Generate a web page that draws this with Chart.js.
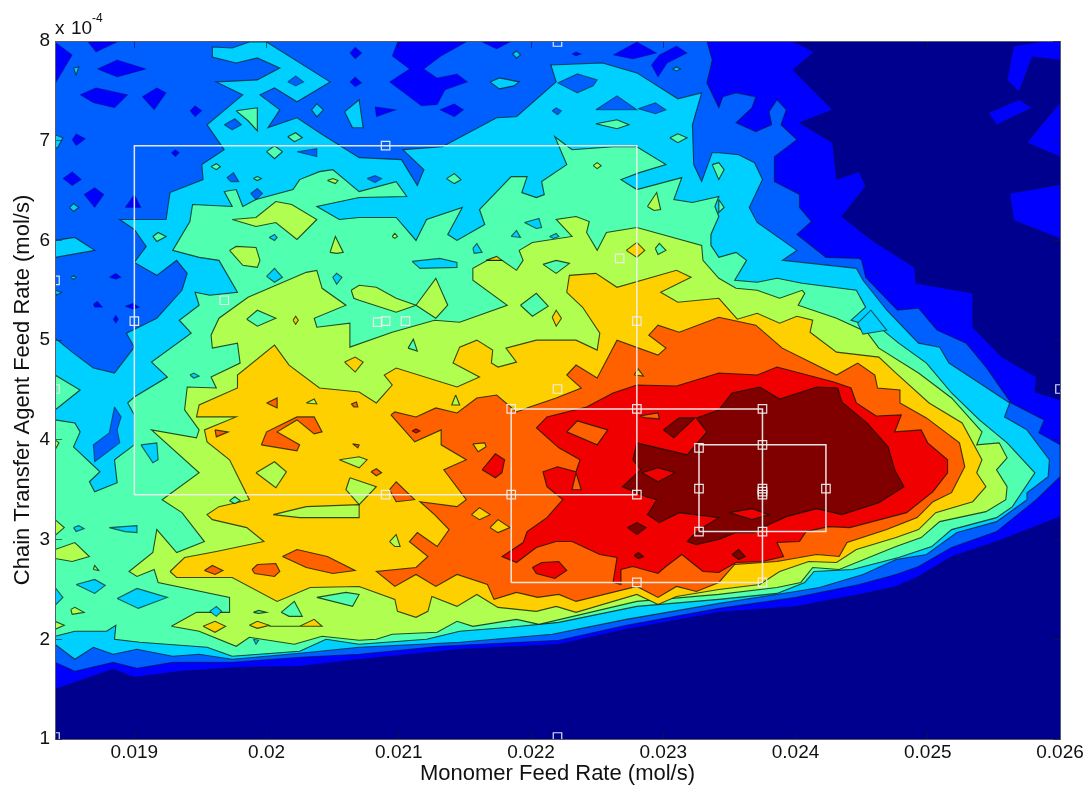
<!DOCTYPE html>
<html>
<head>
<meta charset="utf-8">
<title>Contour</title>
<script src="https://cdn.jsdelivr.net/npm/chart.js@4/dist/chart.umd.js"></script>
<style>
  html, body { margin: 0; padding: 0; background: #fff; }
  canvas { display: block; }
</style>
</head>
<body>
<canvas id="myChart" width="1086" height="787"></canvas>
<script>
// x values are in 1e-3 mol/s, y values in 1e-4 mol/s
const xTicks = [19, 20, 21, 22, 23, 24, 25, 26];
const xTickLabels = ['0.019', '0.02', '0.021', '0.022', '0.023', '0.024', '0.025', '0.026'];
const yTicks = [1, 2, 3, 4, 5, 6, 7, 8];
const levelColors = ['#00008f', '#0000ff', '#0060ff', '#00d0ff', '#50ffb0', '#b0ff50', '#ffd000', '#ff6000', '#f00000', '#800000'];

const level0 = [[18.4,1],[26,1],[26,8],[18.4,8]];
const level1 = [[18.4,1.5],[18.84,1.7],[19,1.62],[19.34,1.68],[19.8,1.72],[20.25,1.73],[20.7,1.8],[21.46,1.9],[22.21,1.95],[22.72,2.1],[23.42,2.27],[24,2.33],[24.48,2.45],[24.76,2.53],[24.93,2.63],[25.18,2.83],[25.52,2.98],[26,3.23],[26,4.4],[25.81,4.48],[25.82,4.63],[25.56,4.83],[25.34,5.13],[25.34,5.47],[24.91,5.57],[24.9,5.73],[24.58,6],[24.35,6.24],[24.53,6.54],[24.48,6.69],[24.31,6.61],[24.28,6.98],[24.03,7.18],[24.28,7.31],[23.98,7.71],[24.14,7.89],[23.98,8],[18.4,8]];
const level2 = [[18.4,1.77],[18.55,1.68],[18.84,1.77],[19.02,1.71],[19.29,1.77],[19.74,1.77],[20.25,1.82],[20.7,1.85],[21.31,1.93],[22.21,1.99],[22.72,2.14],[23.42,2.31],[24,2.42],[24.48,2.55],[24.76,2.65],[24.93,2.73],[25.18,2.92],[25.52,3.08],[25.82,3.4],[26,3.63],[26,3.95],[25.84,4.07],[25.88,4.2],[25.63,4.37],[25.44,4.73],[25.29,4.97],[25.07,5.1],[24.93,5.32],[24.77,5.3],[24.53,5.63],[24.5,5.8],[24.48,5.82],[24.23,5.83],[24.01,6.06],[24.12,6.19],[24.03,6.33],[24.03,6.46],[23.84,6.59],[23.84,6.84],[24.01,7.01],[23.89,7.16],[23.93,7.31],[23.86,7.41],[23.8,7.29],[23.82,7.16],[23.7,7.09],[23.55,7.18],[23.67,7.33],[23.7,7.44],[23.55,7.48],[23.45,7.44],[23.42,7.33],[23.33,7.58],[23.37,7.81],[23.33,8],[18.4,8]];
const level3 = [[18.4,1.95],[18.55,1.8],[18.69,1.92],[18.84,1.85],[19.02,1.9],[19.29,1.83],[19.49,1.85],[19.74,1.8],[20.25,1.86],[20.7,1.92],[21.46,1.97],[22.16,2.05],[22.72,2.2],[23.42,2.36],[24,2.48],[24.18,2.52],[24.51,2.65],[24.76,2.8],[24.99,2.85],[25.22,3.07],[25.52,3.18],[25.75,3.4],[25.75,3.47],[25.91,3.63],[25.92,3.8],[25.75,4.1],[25.58,4.23],[25.62,4.37],[25.16,4.77],[25.09,4.93],[24.93,4.97],[24.69,5.3],[24.51,5.6],[24.46,5.72],[23.9,5.8],[24.01,5.9],[23.71,6.18],[23.65,6.33],[23.75,6.61],[23.69,6.78],[23.57,6.86],[23.42,6.88],[23.37,6.88],[23.29,6.59],[23.23,6.76],[23.22,7.16],[23.29,7.48],[23.11,7.42],[22.8,7.68],[22.54,7.78],[22.15,7.76],[22.19,7.59],[21.89,7.24],[21.74,7.23],[21.33,6.94],[21.03,6.91],[21.19,6.71],[21.14,6.55],[21.02,6.81],[20.7,6.83],[20.4,7.08],[20.23,7.23],[20.01,7.13],[20.1,7.31],[19.95,7.46],[20.06,7.53],[20.23,7.39],[20.48,7.59],[20,7.99],[19.87,7.99],[19.74,7.93],[19.59,7.94],[19.59,7.84],[19.77,7.78],[19.93,7.83],[20.1,7.73],[19.93,7.61],[19.62,7.59],[19.82,7.46],[19.55,7.16],[19.68,6.91],[19.51,6.76],[19.52,6.61],[19.27,6.48],[19.24,6.21],[18.89,6.21],[19,6.11],[19.09,5.94],[19,5.78],[19.17,5.65],[19.32,5.8],[19.4,5.67],[19.36,5.5],[19.17,5.22],[18.94,5.07],[19,4.93],[18.85,4.67],[18.69,4.72],[18.53,4.88],[18.4,5.02]];
const level4 = [[18.4,2.03],[18.55,2.08],[18.79,2.08],[18.86,2.14],[18.85,2],[19.04,1.97],[19.55,1.92],[19.74,1.83],[20.25,1.88],[20.45,2],[20.7,1.95],[21.21,2],[21.46,2.08],[21.84,2.12],[22.21,2.17],[22.8,2.33],[23.42,2.4],[23.86,2.46],[24.07,2.57],[24.14,2.68],[24.43,2.7],[24.78,2.82],[25.03,2.93],[25.18,3.1],[25.52,3.22],[25.64,3.33],[25.81,3.67],[25.6,3.97],[25.39,4.2],[25.18,4.47],[24.99,4.77],[24.78,4.97],[24.66,5.1],[24.42,5.2],[24.53,5.33],[24.46,5.5],[24.05,5.57],[23.86,5.62],[23.71,5.58],[23.54,5.6],[23.63,5.8],[23.55,5.88],[23.42,5.83],[23.36,5.95],[23.36,6.06],[23.42,6.24],[23.39,6.34],[23.42,6.44],[23.22,6.38],[23.08,6.41],[23.14,6.63],[22.8,6.51],[22.68,6.61],[22.82,6.68],[23.02,6.76],[22.8,6.94],[22.62,6.94],[22.31,6.91],[22.18,7.04],[22.27,6.76],[22.08,6.59],[22.1,6.46],[22.04,6.43],[21.93,6.48],[21.97,6.64],[21.85,6.64],[21.61,6.31],[21.65,6.16],[21.44,6],[21.37,6.06],[21.48,6.33],[21.21,6.21],[21.13,6],[20.98,6.23],[20.7,6.23],[20.55,6.21],[20.38,6.34],[20.7,6.43],[21.06,6.44],[20.98,6.59],[20.7,6.49],[20.5,6.71],[20.4,6.69],[20.25,6.61],[20.2,6.51],[19.92,6.41],[19.82,6.34],[19.77,6.51],[19.68,6.49],[19.74,6.34],[19.44,6.36],[19.42,6.19],[19.29,5.9],[19.49,5.83],[19.64,5.8],[19.78,5.48],[19.57,5.45],[19.46,5.48],[19.49,5.35],[19.34,5.2],[19.43,5.07],[19.13,4.78],[19.25,4.63],[19,4.43],[18.95,4.37],[19,4.25],[19,3.95],[18.85,3.8],[18.87,3.57],[18.7,3.48],[18.66,3.58],[18.74,3.68],[18.54,3.93],[18.59,4.08],[18.55,4.17],[18.4,4.2]];
const level5 = [[19.28,2.13],[19.47,2.27],[19.72,2.27],[19.72,2.42],[19.18,2.57],[19.15,2.7],[19.02,2.63],[18.96,2.68],[19.14,2.87],[19.17,3.1],[19.32,2.87],[19.53,2.98],[19.36,3.27],[19.21,3.4],[19.49,3.67],[19.13,4.1],[19.47,4.02],[19.49,4.1],[19.38,4.3],[19.4,4.53],[19.62,4.52],[19.58,4.63],[19.8,4.77],[19.78,4.97],[19.59,4.92],[19.58,5.05],[19.64,5.22],[19.86,5.43],[20.3,5.68],[20.38,5.7],[20.42,5.52],[20.6,5.35],[20.36,5.22],[20.38,5.13],[20.63,5.17],[20.63,4.93],[20.95,5.08],[21.27,5.2],[21.46,5.18],[21.82,5.35],[21.56,5.6],[21.56,5.72],[21.67,5.8],[21.78,5.8],[21.89,5.7],[21.94,5.8],[21.91,5.9],[22.01,5.98],[22.31,6.04],[22.19,6.21],[22.34,6.24],[22.44,6.19],[22.42,6.08],[22.5,5.9],[22.57,6.08],[22.8,6.13],[23.29,5.95],[23.3,5.8],[23.42,5.62],[23.55,5.52],[23.71,5.5],[23.88,5.42],[24.05,5.5],[24.07,5.47],[24.02,5.35],[24.31,5.22],[24.54,5.08],[24.63,4.92],[24.93,4.67],[25.18,4.42],[25.41,4.08],[25.37,3.95],[25.54,3.97],[25.6,3.82],[25.52,3.7],[25.6,3.53],[25.59,3.4],[25.44,3.28],[25.09,3.18],[24.95,3.02],[24.76,2.93],[24.33,2.7],[24.13,2.72],[24.04,2.57],[23.86,2.52],[23.42,2.45],[22.8,2.38],[22.06,2.15],[21.89,2.2],[21.56,2.13],[21.44,2.18],[21.29,2.07],[20.95,2.05],[20.83,2],[20.7,1.99],[20.42,2.03],[20.21,1.95],[19.87,2.02],[19.77,1.93],[19.49,2.08]];
const level6 = [[19.27,2.68],[19.38,2.82],[19.62,2.88],[19.98,2.98],[19.85,3.12],[19.59,3.2],[19.55,3.25],[19.64,3.33],[19.87,3.4],[19.72,3.8],[19.55,3.98],[19.53,4.1],[19.77,4.23],[19.47,4.23],[19.49,4.35],[19.78,4.52],[19.78,4.65],[20.06,4.95],[20.17,4.75],[20.4,4.52],[20.7,4.48],[20.83,4.37],[20.95,4.55],[20.89,4.65],[20.98,4.72],[21.44,4.53],[21.61,4.63],[21.41,4.77],[21.46,4.93],[21.59,5],[21.71,4.9],[21.7,4.77],[21.75,4.73],[21.89,4.78],[21.81,4.92],[22.04,5],[22.34,5],[22.5,4.9],[22.52,5.07],[22.39,5.33],[22.27,5.48],[22.29,5.65],[22.49,5.67],[22.65,5.53],[23.1,5.7],[23.21,5.63],[22.98,5.48],[23.11,5.38],[23.42,5.42],[23.56,5.21],[23.71,5.27],[23.88,5.17],[24.01,5.24],[24.13,5.2],[24.11,5.08],[24.31,4.88],[24.63,4.83],[24.76,4.67],[25.01,4.37],[25.26,4.17],[25.41,3.8],[25.37,3.67],[25.44,3.53],[25.34,3.38],[25.06,3.27],[24.93,3.1],[24.76,3.02],[24.46,2.9],[24.31,2.77],[24.1,2.78],[23.88,2.68],[23.73,2.55],[23.42,2.5],[23.1,2.43],[22.96,2.35],[22.8,2.45],[22.34,2.27],[22.19,2.33],[22.04,2.28],[21.75,2.32],[21.59,2.45],[21.44,2.33],[21.25,2.43],[21.22,2.28],[21.13,2.22],[20.99,2.28],[20.97,2.4],[20.7,2.53],[20.33,2.52],[20.08,2.38],[19.74,2.62],[19.32,2.62]];
const level7 = [[20.94,4.25],[20.97,4.28],[21.13,4.23],[21.28,4.32],[21.44,4.27],[21.59,4.42],[21.74,4.45],[21.89,4.28],[21.99,4.33],[22.19,4.42],[22.38,4.52],[22.27,4.65],[22.34,4.75],[22.5,4.62],[22.65,5],[22.96,4.85],[23.02,4.92],[22.89,5.05],[22.96,5.15],[23.12,5.08],[23.42,5.23],[23.7,5.15],[23.9,4.92],[24.31,4.65],[24.47,4.77],[24.6,4.65],[24.62,4.52],[24.79,4.5],[24.79,4.37],[24.99,4.22],[25.24,3.97],[25.28,3.73],[25.18,3.47],[25.04,3.38],[24.92,3.22],[24.69,3.1],[24.39,2.97],[24.33,2.83],[24.16,2.85],[23.86,2.78],[23.54,2.75],[23.42,2.57],[23.25,2.48],[23.1,2.53],[22.96,2.42],[22.8,2.53],[22.34,2.38],[22.21,2.45],[22.05,2.42],[21.89,2.47],[21.72,2.4],[21.67,2.55],[21.44,2.65],[21.28,2.53],[21.13,2.65],[20.97,2.53],[20.83,2.68],[21.13,2.72],[21.22,2.83],[21.08,2.98],[21.14,3.07],[21.29,2.93],[21.38,3.1],[21.27,3.25],[21.16,3.38],[21.44,3.33],[21.51,3.4],[21.34,3.7],[21.51,3.8],[21.32,3.95],[21.32,4.1],[21.12,3.98]];
const level8 = [[22.04,4.12],[22.12,4.23],[22.42,4.33],[22.62,4.47],[22.8,4.55],[23.1,4.54],[23.42,4.67],[23.71,4.65],[23.86,4.73],[24.29,4.58],[24.42,4.52],[24.46,4.37],[24.61,4.24],[24.8,4.25],[24.75,4.08],[24.95,4.1],[25,3.97],[25.15,3.8],[25.15,3.67],[25.04,3.48],[24.84,3.27],[24.41,3.12],[24.25,3.13],[24.08,3.08],[24.03,2.98],[23.86,2.97],[23.91,2.83],[23.75,2.78],[23.55,2.77],[23.42,2.67],[23.3,2.68],[23.14,2.85],[23.02,2.73],[22.96,2.66],[22.77,2.73],[22.68,2.7],[22.68,2.55],[22.62,2.57],[22.65,2.82],[22.52,2.85],[22.31,2.98],[22.19,2.98],[22.04,2.92],[21.89,2.77],[21.78,2.83],[21.94,2.97],[21.97,3.08],[22.12,3.22],[22.24,3.4],[22.12,3.53],[22.09,3.68],[22.2,3.73],[22.34,3.68],[22.37,3.8],[22.21,3.92]];
const level9 = [[22.8,3.97],[23.18,3.85],[23.33,4.08],[23.25,4.22],[23.42,4.3],[23.52,4.47],[23.73,4.53],[23.88,4.41],[24.16,4.53],[24.32,4.52],[24.35,4.38],[24.54,4.17],[24.7,3.93],[24.75,3.7],[24.82,3.53],[24.63,3.37],[24.35,3.25],[24.16,3.31],[23.93,3.23],[23.8,3.15],[23.69,3.07],[23.55,3.07],[23.42,3],[23.25,2.95],[23.18,2.98],[23.27,3.1],[23.42,3.22],[23.12,3.27],[22.97,3.17],[22.88,3.25],[22.95,3.4],[22.87,3.43],[22.69,3.53],[22.83,3.7],[22.77,3.8]];

// closed contour islands, one list per level
const spots1 = [
  [[18.4,7.99],[18.53,7.86],[18.4,7.57]],[[18.65,7.99],[18.87,7.99],[18.71,7.89]],
  [[18.72,7.72],[18.87,7.81],[19.09,7.72],[18.87,7.64]],[[18.59,7.46],[18.71,7.53],[18.95,7.46],[18.85,7.33],[18.69,7.38]],
  [[19.06,7.44],[19.17,7.53],[19.24,7.48],[19.15,7.31]],[[19.42,7.3],[19.46,7.35],[19.51,7.3],[19.46,7.24]],
  [[18.53,7.01],[18.56,7.07],[18.63,7.02],[18.56,6.95]],[[19.28,6.88],[19.31,6.91],[19.34,6.88],[19.31,6.84]],
  [[18.46,6.62],[18.53,6.69],[18.6,6.61],[18.53,6.55]],[[18.62,6.46],[18.7,6.53],[18.77,6.46],[18.7,6.33]],
  [[18.93,6.33],[19,6.46],[19.05,6.33]],[[18.81,5.63],[18.86,5.67],[18.9,5.63],[18.86,5.61]],
  [[18.69,5.36],[18.72,5.39],[18.76,5.33],[18.7,5.33]],[[18.93,5.34],[18.99,5.37],[19.04,5.33],[18.99,5.31]],
  [[18.84,5.21],[18.86,5.25],[18.88,5.21],[18.86,5.17]],
  [[20.95,7.85],[20.99,7.99],[21.51,7.99],[21.32,7.85],[21.19,7.72],[21.29,7.63],[21.44,7.67],[21.52,7.59],[21.35,7.51],[21.29,7.36],[21.17,7.35],[20.93,7.59],[21.08,7.72]],
  [[20.82,7.34],[20.98,7.31],[20.83,7.24]],[[21.31,7.31],[21.42,7.37],[21.49,7.31],[21.42,7.24]],
  [[21.63,7.99],[21.84,7.99],[21.74,7.92]],[[22.31,7.87],[22.34,7.89],[22.38,7.87],[22.34,7.85]],
  [[22.62,7.86],[22.8,7.99],[22.95,7.88],[22.77,7.82]],[[22.91,7.76],[22.97,7.86],[23.1,7.95],[23.18,7.88],[23.03,7.78],[22.96,7.64]],
  [[20.63,7.88],[20.67,7.94],[20.72,7.88],[20.67,7.82]],[[20.63,7.59],[20.67,7.64],[20.72,7.58],[20.67,7.54]],
  [[25.9,8],[25.65,7.95],[25.6,7.61],[25.69,7.49],[25.79,7.84],[26,7.81],[26,8]],
  [[25.46,7.28],[25.69,7.41],[25.79,7.33],[25.52,7.16]],[[26,7.38],[25.91,7.24],[25.75,6.98],[26,6.84]],
  [[25.62,6.47],[26,6.56],[26,6.02],[25.65,6.2]]
];
const spots2 = [
  [[19.68,7.16],[19.76,7.22],[19.81,7.16],[19.74,7.11]],[[20.16,7.59],[20.22,7.65],[20.28,7.59],[20.22,7.55]],
  [[20.23,6.89],[20.38,6.92],[20.38,6.84],[20.29,6.87]],[[19.7,6.63],[19.75,6.68],[19.79,6.59],[19.73,6.59]],
  [[19.88,6.47],[19.93,6.52],[19.97,6.47],[19.92,6.41]],[[20.76,6.62],[20.82,6.65],[20.87,6.62],[20.82,6.58]],
  [[22.16,7.3],[22.19,7.33],[22.23,7.3],[22.2,7.26]],[[22.2,7.58],[22.35,7.67],[22.5,7.61],[22.47,7.55],[22.35,7.48]],
  [[22.49,7.31],[22.65,7.45],[22.8,7.31]],[[22.81,7.32],[22.94,7.38],[23.02,7.31],[22.94,7.27]],
  [[18.85,4.33],[18.9,4.23],[18.87,4.1],[18.89,3.97],[18.7,3.78],[18.69,3.95],[18.81,4.07]]
];
const spots3 = [
  [[18.4,6],[18.55,6.03],[18.7,5.9],[18.4,5.83]],[[18.4,7.06],[18.46,7.03],[18.42,6.93],[18.4,6.93]],
  [[18.54,7.73],[18.58,7.74],[18.56,7.66]],[[18.51,6.33],[18.54,6.37],[18.58,6.33],[18.54,6.29]],
  [[20.34,7.31],[20.38,7.37],[20.43,7.31],[20.38,7.24]],[[20.59,7.29],[20.7,7.41],[20.73,7.13],[20.65,7.13]],
  [[21.69,7.59],[21.76,7.63],[21.91,7.59],[21.87,7.55],[21.76,7.52]],[[21.86,7.87],[21.89,7.9],[21.92,7.86],[21.89,7.83]],
  [[18.4,5.5],[18.45,5.48],[18.41,5.45]],[[18.52,5.63],[18.54,5.65],[18.56,5.63],[18.54,5.61]],
  [[23.07,7.72],[23.1,7.74],[23.13,7.72],[23.1,7.7]],
  [[20,5.64],[20.06,5.72],[20.12,5.63],[20.06,5.58]],[[20.5,5.63],[20.53,5.67],[20.57,5.63],[20.53,5.56]],
  [[20.02,6.03],[20.06,6.06],[20.08,6.03],[20.06,6]],[[21.1,5.79],[21.31,5.82],[21.44,5.78],[21.44,5.73],[21.16,5.72]],
  [[21.95,6.18],[22.06,6.22],[22.08,6.13],[22.04,6.12]],[[21.85,6.04],[21.89,6.1],[21.92,6.03]],
  [[21.56,5.92],[21.59,5.97],[21.63,5.88],[21.57,5.87]],[[22.14,6.04],[22.19,6.07],[22.21,6.04],[22.17,6.02]],
  [[19.05,3.95],[19.17,3.97],[19.18,3.8],[19.14,3.77]],[[18.81,3.12],[19.02,3.14],[19.02,3.07],[18.93,3.08]],
  [[18.54,3.12],[18.58,3.14],[18.62,3.11],[18.56,3.08]],[[18.56,2.55],[18.7,2.6],[18.78,2.54],[18.7,2.46]],
  [[18.87,2.41],[19.02,2.51],[19.25,2.42],[19.03,2.31]],[[18.4,2.52],[18.46,2.42],[18.4,2.34]],
  [[19.57,2.28],[19.62,2.33],[19.66,2.28],[19.62,2.23]],[[19.9,2],[19.94,1.99],[19.92,1.95]],
  [[19.42,4.65],[19.45,4.67],[19.49,4.64],[19.45,4.62]],[[24.47,5.17],[24.57,5.3],[24.69,5.1],[24.51,5.06]]
];
const spots4 = [
  [[18.4,4.65],[18.59,4.5],[18.4,4.3]],[[19.77,7.3],[19.93,7.33],[19.93,7.1],[19.86,7.2]],
  [[20,6.89],[20.06,6.95],[20.12,6.89],[20.06,6.82]],[[20.16,7.04],[20.22,7.08],[20.27,7.03],[20.21,6.99]],
  [[21.36,6.62],[21.42,6.67],[21.47,6.61],[21.42,6.57]],[[22.49,7.17],[22.65,7.21],[22.74,7.16],[22.65,7.12]],
  [[23.05,7.03],[23.11,7.07],[23.18,7.03],[23.11,6.98]],[[23.37,6.76],[23.42,6.78],[23.46,6.71],[23.42,6.61]],
  [[23.42,6.41],[23.46,6.33],[23.42,6.28]],[[19.14,6.04],[19.18,6.08],[19.24,6.04],[19.17,5.99]],
  [[19.58,6.74],[19.62,6.77],[19.65,6.74],[19.62,6.71]],[[19.9,6.62],[19.93,6.64],[19.96,6.62],[19.93,6.6]],
  [[19.85,5.21],[19.93,5.3],[20.07,5.22],[19.93,5.14]],[[21.92,5.35],[22.04,5.47],[22.13,5.34],[22.01,5.24]],
  [[22.09,5.76],[22.19,5.8],[22.29,5.77],[22.19,5.67]],[[20.38,2.42],[20.6,2.47],[20.7,2.45],[20.65,2.33]],
  [[20.11,2.27],[20.21,2.38],[20.27,2.23],[20.17,2.23]],[[19.9,2.27],[19.94,2.29],[20,2.27],[19.94,2.26]],
  [[19.72,3.39],[19.76,3.43],[19.8,3.39],[19.76,3.36]],[[21.07,4.92],[21.11,5.01],[21.14,4.89]],
  [[22.94,5.92],[22.97,5.97],[23.02,5.9],[22.96,5.86]]
];
const spots5 = [
  [[19.74,6.21],[19.92,6.23],[20.07,6.39],[20.19,6.36],[20.38,6.21],[20.23,6.01],[20.07,6.18],[19.92,6.14]],
  [[19.72,5.9],[19.77,5.94],[19.92,5.93],[19.95,5.8],[19.93,5.73],[19.82,5.75]],
  [[20.48,5.88],[20.52,6.04],[20.58,5.88],[20.53,5.87]],[[22.88,6.34],[22.95,6.48],[22.98,6.31],[22.93,6.3]],
  [[22.47,6.75],[22.5,6.78],[22.53,6.75],[22.5,6.72]],[[20.95,6.04],[20.97,6.07],[20.99,6.04],[20.97,6.02]],
  [[20.64,5.5],[20.7,5.55],[20.83,5.53],[20.98,5.42],[21.13,5.35],[20.98,5.28],[20.7,5.4],[20.66,5.42]],
  [[21.13,5.35],[21.28,5.62],[21.37,5.35],[21.28,5.22]],[[18.4,3.2],[18.47,3.12],[18.4,3.04]],
  [[18.4,2.9],[18.55,2.97],[18.66,2.83],[18.53,2.78],[18.4,2.81]],[[18.4,2.18],[18.47,2.14],[18.4,2.1]],
  [[18.52,2.3],[18.55,2.32],[18.62,2.27],[18.53,2.25]],[[18.4,4],[18.43,3.97],[18.4,3.9]],
  [[18.69,2.7],[18.7,2.74],[18.73,2.69]],
  [[19.92,3.67],[20.06,3.78],[20.15,3.68],[20.07,3.52]],[[20.55,3.8],[20.7,3.83],[20.76,3.8],[20.7,3.72]],
  [[20.3,4.37],[20.36,4.41],[20.38,4.36]],[[20.63,3.62],[20.83,3.53],[20.7,3.35],[20.6,3.5]],
  [[20.05,3.25],[20.3,3.33],[20.7,3.35],[20.7,3.22],[20.25,3.22]],[[21.43,4.45],[21.4,4.35],[21.46,4.35]],
  [[20.93,2.98],[20.98,3.05],[21.01,2.93],[20.97,2.93]],[[20.46,6.6],[20.5,6.62],[20.54,6.6],[20.52,6.57]]
];
const spots6 = [
  [[20.59,4.78],[20.67,4.83],[20.73,4.78],[20.67,4.68]],[[22.16,5.23],[22.19,5.3],[22.23,5.22],[22.19,5.14]],
  [[19.52,2.13],[19.61,2.18],[19.69,2.13],[19.61,2.07]],[[19.87,2.14],[19.93,2.18],[20.02,2.14],[19.93,2.11]],
  [[20.02,2.13],[20.25,2.13],[20.36,2.2],[20.42,2.13]],[[20.2,5.2],[20.22,5.24],[20.24,5.2],[20.22,5.16]],
  [[21.66,5.8],[21.74,5.84],[21.78,5.8]],[[22.72,5.9],[22.8,5.98],[22.86,5.9],[22.8,5.83]],
  [[21.56,3.96],[21.65,3.97],[21.66,3.93],[21.6,3.88]],[[21.55,3.25],[21.61,3.32],[21.69,3.25],[21.61,3.2]],
  [[21.69,3.12],[21.75,3.2],[21.84,3.12],[21.75,3.07]],[[22.78,4.65],[22.81,4.71],[22.85,4.64]]
];
const spots7 = [
  [[20.93,3.5],[20.98,3.58],[21.12,3.4],[20.98,3.38]],[[20,4.37],[20.08,4.42],[20.08,4.32]],
  [[20.64,4.36],[20.68,4.38],[20.69,4.33],[20.66,4.33]],
  [[19.96,3.95],[20,4.08],[20.23,4.23],[20.36,4.23],[20.42,4.08],[20.36,4.06],[20.23,4.2],[20.08,4.08],[20.25,3.95],[20.23,3.89]],
  [[19.61,4.1],[19.71,4.08],[19.62,4.03]],[[20.65,3.96],[20.7,3.95],[20.69,3.92]],
  [[19.53,2.69],[19.59,2.74],[19.67,2.69],[19.61,2.65]],[[19.89,2.7],[19.93,2.75],[20.07,2.76],[20.1,2.68],[20.06,2.63],[19.91,2.66]],
  [[20.12,2.83],[20.23,2.9],[20.46,2.83],[20.67,2.69],[20.5,2.66],[20.3,2.72]],[[20.79,3.68],[20.83,3.71],[20.87,3.67],[20.83,3.64]],
  [[22.27,4.08],[22.35,4.19],[22.58,4.1],[22.5,3.95]],[[22.82,4.24],[22.96,4.27],[22.97,4.21],[22.87,4.22]],
  [[22.34,3.67],[22.38,3.5],[22.31,3.5]]
];
const spots8 = [
  [[21.63,3.7],[21.73,3.86],[21.8,3.8],[21.78,3.67],[21.73,3.62]],[[22.01,2.72],[22.08,2.77],[22.21,2.78],[22.27,2.69],[22.18,2.61],[22.04,2.66]],
  [[21.1,4.09],[21.13,4.11],[21.16,4.09],[21.13,4.07]],[[22.84,3.67],[22.96,3.72],[23.09,3.67],[22.96,3.58]],
  [[23.5,3.27],[23.67,3.31],[23.8,3.25],[23.67,3.2]]
];
const spots9 = [
  [[23,4.1],[23.12,4.22],[23.24,4.22],[23.08,4.02]],[[22.73,3.12],[22.8,3.17],[22.87,3.12],[22.8,3.05]],
  [[22.78,2.84],[22.81,2.87],[22.85,2.83],[22.81,2.81]],[[23.52,2.85],[23.57,2.9],[23.62,2.83],[23.57,2.8]]
];

// white search boxes [xMin, xMax, yMin, yMax] and the sampled points on them
const boxes = [[19, 22.8, 3.45, 6.95], [21.85, 23.75, 2.57, 4.31], [23.27, 24.23, 3.08, 3.95]];
const samplesX = [20.9,19,22.8,19.68,20.84,20.9,21.05,22.67,22.2,21.85,22.8,23.75,20.9,21.85,22.8,23.27,23.75,23.27,23.75,23.75,23.75,24.23,23.27,23.75,22.8,23.75,22.2,22.2,18.4,18.4,26,18.4];
const samplesY = [6.95,5.19,5.19,5.4,5.18,5.19,5.19,5.82,4.51,4.31,4.31,4.31,3.45,3.45,3.45,3.92,3.95,3.51,3.51,3.48,3.45,3.51,3.08,3.08,2.57,2.57,7.99,1.02,5.6,4.51,4.51,1.02];

const mains = [level0, level1, level2, level3, level4, level5, level6, level7, level8, level9];
const allSpots = [[], spots1, spots2, spots3, spots4, spots5, spots6, spots7, spots8, spots9];
// the outlines hardly show against the dark blues in the picture
const lineAlpha = [0, 0.25, 0.5, 0.65, 0.75, 0.75, 0.75, 0.75, 0.75, 0.75];

const datasets = [];
function addPolygon(points, level) {
  const data = points.concat([points[0]]).map(p => ({ x: p[0], y: p[1] }));
  datasets.push({
    data: data,
    showLine: true,
    fill: 'shape',
    backgroundColor: levelColors[level],
    borderColor: 'rgba(0,20,0,' + lineAlpha[level] + ')',
    borderWidth: level > 0 ? 1.1 : 0,
    pointRadius: 0,
    tension: 0
  });
}
mains.forEach((poly, i) => addPolygon(poly, i));
allSpots.forEach((list, i) => list.forEach(poly => addPolygon(poly, i)));

boxes.forEach(b => {
  datasets.push({
    data: [{x:b[0],y:b[2]},{x:b[1],y:b[2]},{x:b[1],y:b[3]},{x:b[0],y:b[3]},{x:b[0],y:b[2]}],
    showLine: true,
    fill: false,
    borderColor: 'rgba(238,238,238,0.95)',
    borderWidth: 1.5,
    pointRadius: 0,
    tension: 0
  });
});
datasets.push({
  data: samplesX.map((v, i) => ({ x: v, y: samplesY[i] })),
  showLine: false,
  pointStyle: 'rect',
  pointRadius: 6,
  pointBorderWidth: 1.2,
  pointBackgroundColor: 'rgba(0,0,0,0)',
  pointBorderColor: 'rgba(238,238,238,0.95)'
});
// chart.js paints higher order first, keep list order as paint order
datasets.forEach((d, i) => { d.order = datasets.length - i; });

const tickGrid = { drawOnChartArea: false, z: 1, tickLength: -7, color: 'rgba(20,20,50,0.6)', lineWidth: 1 };
const axisBorder = { z: 1, color: '#5a5a6e', width: 1 };
const tickFont = { family: '"Liberation Sans", Arial, sans-serif', size: 19 };
const titleFont = { family: '"Liberation Sans", Arial, sans-serif', size: 22 };

const multiplier = {
  id: 'multiplier',
  afterDraw(chart) {
    const c = chart.ctx;
    c.save();
    c.fillStyle = '#111';
    c.textAlign = 'left';
    c.textBaseline = 'alphabetic';
    c.font = tickFont.size + 'px ' + tickFont.family;
    c.fillText('x', 55, 34);
    c.fillText('10', 71, 34);
    c.font = '12px ' + tickFont.family;
    c.fillText('-4', 92, 22);
    c.restore();
  }
};

new Chart(document.getElementById('myChart'), {
  type: 'scatter',
  data: { datasets: datasets },
  plugins: [multiplier],
  options: {
    responsive: false,
    animation: false,
    events: [],
    layout: { padding: { top: 41, right: 26, left: 0, bottom: 0 } },
    plugins: { legend: { display: false }, tooltip: { enabled: false }, title: { display: false } },
    scales: {
      x: {
        type: 'linear', position: 'bottom', min: 18.4, max: 26,
        afterBuildTicks: s => { s.ticks = xTicks.map(v => ({ value: v })); },
        afterFit: s => { s.height = 48; s.paddingRight = 0; s.paddingLeft = 0; },
        grid: tickGrid, border: axisBorder,
        ticks: { color: '#111', font: tickFont, padding: 9, maxRotation: 0, autoSkip: false, callback: (v, i) => xTickLabels[i] },
        title: { display: true, text: 'Monomer Feed Rate (mol/s)', color: '#111', font: titleFont, padding: 0 }
      },
      y: {
        type: 'linear', position: 'left', min: 1, max: 8,
        afterBuildTicks: s => { s.ticks = yTicks.map(v => ({ value: v })); },
        afterFit: s => { s.width = 55; s.paddingTop = 0; s.paddingBottom = 0; },
        grid: tickGrid, border: axisBorder,
        ticks: { color: '#111', font: tickFont, padding: 12, autoSkip: false, callback: v => String(v) },
        title: { display: true, text: 'Chain Transfer Agent Feed Rate (mol/s)', color: '#111', font: titleFont, padding: { top: 10, bottom: 0 } }
      },
      xTop: {
        type: 'linear', axis: 'x', position: 'top', min: 18.4, max: 26,
        afterBuildTicks: s => { s.ticks = xTicks.map(v => ({ value: v })); },
        afterFit: s => { s.height = 0; s.paddingRight = 0; s.paddingLeft = 0; },
        grid: tickGrid, border: axisBorder, ticks: { display: false }
      },
      yRight: {
        type: 'linear', axis: 'y', position: 'right', min: 1, max: 8,
        afterBuildTicks: s => { s.ticks = yTicks.map(v => ({ value: v })); },
        afterFit: s => { s.width = 0; s.paddingTop = 0; s.paddingBottom = 0; },
        grid: tickGrid, border: axisBorder, ticks: { display: false }
      }
    }
  }
});
</script>
</body>
</html>
